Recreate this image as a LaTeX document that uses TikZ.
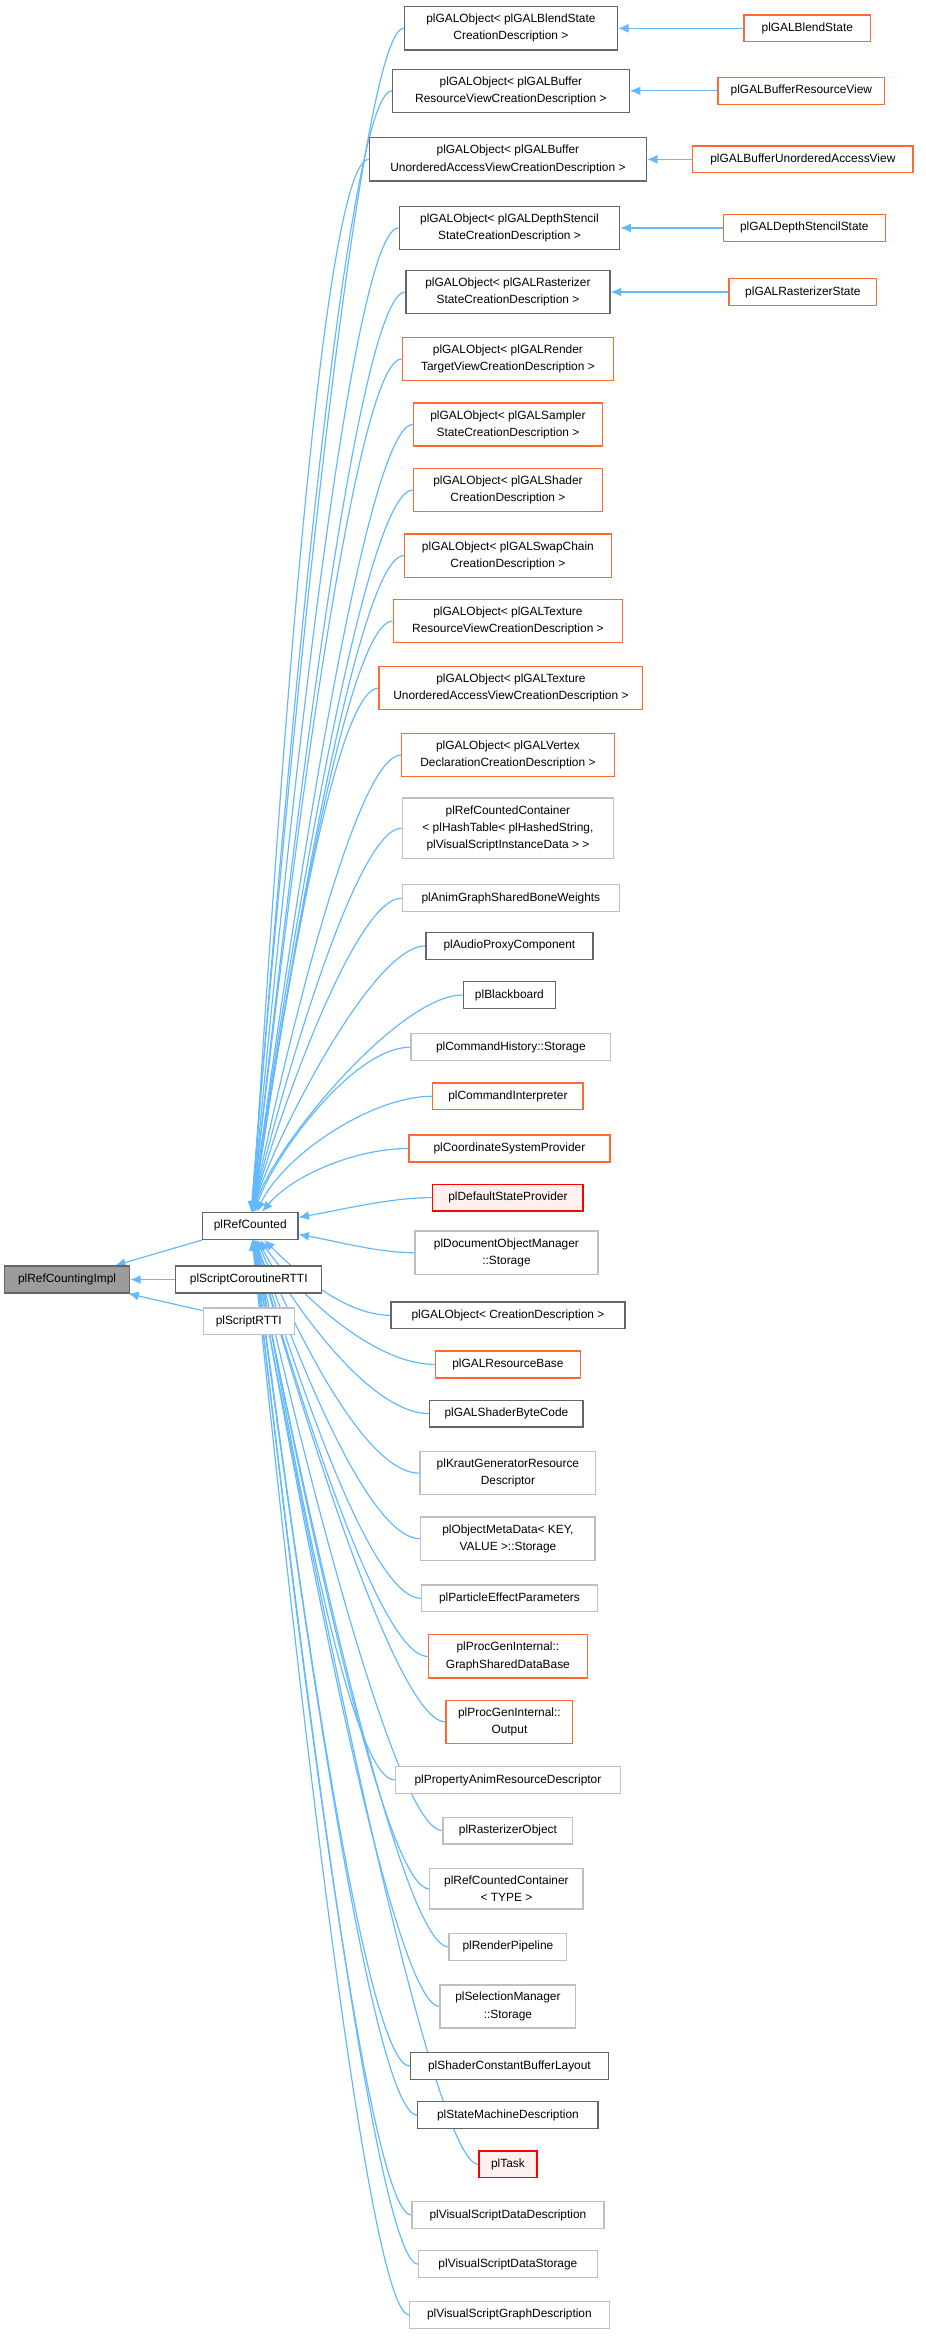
\documentclass[tikz,border=0pt]{standalone}
\usepackage{fontspec}
\setmainfont{Liberation Sans}
\usetikzlibrary{arrows.meta,backgrounds}
\definecolor{edgeblue}{HTML}{63B8FF}
\definecolor{darkline}{HTML}{666666}
\definecolor{lightline}{HTML}{BFBFBF}
\definecolor{orangeline}{HTML}{FF6A33}
\definecolor{redline}{HTML}{FF0000}
\begin{document}
\begin{tikzpicture}[x=1pt,y=1pt,
    box/.style={draw, fill=white, line width=0.9pt, align=center, inner xsep=3pt, inner ysep=5pt,
      minimum height=18pt, font=\fontsize{8}{11.5}\selectfont},
    dk/.style={box, draw=darkline},
    lt/.style={box, draw=lightline},
    og/.style={box, draw=orangeline},
    rd/.style={box, draw=redline, fill=red!6},
    edge/.style={edgeblue, line width=0.8pt, {Latex[length=7pt,width=6pt]}-}]

    \useasboundingbox (0,0) rectangle (621,-1577);

    %% left part
    \node[box, draw=darkline, fill=darkline!65, minimum width=84pt] (impl) at (45,-859) {plRefCountingImpl};
    \node[dk, minimum width=64pt] (rc) at (168,-823) {plRefCounted};
    \node[dk, minimum width=98pt] (cor) at (167,-859) {plScriptCoroutineRTTI};
    \node[lt, minimum width=61pt] (srtti) at (167,-887) {plScriptRTTI};

    %% derived classes
    \node[dk, minimum width=143pt] (c1) at (343,-19) {plGALObject< plGALBlendState\\CreationDescription >};
    \node[dk, minimum width=159pt] (c2) at (343,-61) {plGALObject< plGALBuffer\\ResourceViewCreationDescription >};
    \node[dk, minimum width=186pt] (c3) at (341,-107) {plGALObject< plGALBuffer\\UnorderedAccessViewCreationDescription >};
    \node[dk, minimum width=148pt] (c4) at (342,-153) {plGALObject< plGALDepthStencil\\StateCreationDescription >};
    \node[dk, minimum width=137pt] (c5) at (341,-196) {plGALObject< plGALRasterizer\\StateCreationDescription >};
    \node[og, minimum width=142pt] (c6) at (341,-241) {plGALObject< plGALRender\\TargetViewCreationDescription >};
    \node[og, minimum width=127pt] (c7) at (341,-285) {plGALObject< plGALSampler\\StateCreationDescription >};
    \node[og, minimum width=127pt] (c8) at (341,-329) {plGALObject< plGALShader\\CreationDescription >};
    \node[og, minimum width=139pt] (c9) at (341,-373) {plGALObject< plGALSwapChain\\CreationDescription >};
    \node[og, minimum width=154pt] (c10) at (341,-417) {plGALObject< plGALTexture\\ResourceViewCreationDescription >};
    \node[og, minimum width=177pt] (c11) at (343,-462) {plGALObject< plGALTexture\\UnorderedAccessViewCreationDescription >};
    \node[og, minimum width=143pt] (c12) at (341,-507) {plGALObject< plGALVertex\\DeclarationCreationDescription >};
    \node[lt, minimum width=142pt] (c13) at (341,-556) {plRefCountedContainer\\< plHashTable< plHashedString,\\plVisualScriptInstanceData > >};
    \node[lt, minimum width=146pt] (c14) at (343,-603) {plAnimGraphSharedBoneWeights};
    \node[dk, minimum width=112pt] (c15) at (342,-635) {plAudioProxyComponent};
    \node[dk, minimum width=62pt] (c16) at (342,-668) {plBlackboard};
    \node[lt, minimum width=134pt] (c17) at (343,-703) {plCommandHistory::Storage};
    \node[og, minimum width=101pt] (c18) at (341,-736) {plCommandInterpreter};
    \node[og, minimum width=135pt] (c19) at (342,-771) {plCoordinateSystemProvider};
    \node[rd, minimum width=101pt] (c20) at (341,-804) {plDefaultStateProvider};
    \node[lt, minimum width=123pt] (c21) at (340,-841) {plDocumentObjectManager\\::Storage};
    \node[dk, minimum width=157pt] (c22) at (341,-883) {plGALObject< CreationDescription >};
    \node[og, minimum width=97pt] (c23) at (341,-916) {plGALResourceBase};
    \node[dk, minimum width=103pt] (c24) at (340,-949) {plGALShaderByteCode};
    \node[lt, minimum width=118pt] (c25) at (341,-989) {plKrautGeneratorResource\\Descriptor};
    \node[lt, minimum width=117pt] (c26) at (341,-1033) {plObjectMetaData< KEY,\\VALUE >::Storage};
    \node[lt, minimum width=118pt] (c27) at (342,-1073) {plParticleEffectParameters};
    \node[og, minimum width=107pt] (c28) at (341,-1112) {plProcGenInternal::\\GraphSharedDataBase};
    \node[og, minimum width=85pt] (c29) at (342,-1156) {plProcGenInternal::\\Output};
    \node[lt, minimum width=151pt] (c30) at (341,-1195) {plPropertyAnimResourceDescriptor};
    \node[lt, minimum width=87pt] (c31) at (341,-1229) {plRasterizerObject};
    \node[lt, minimum width=103pt] (c32) at (340,-1268) {plRefCountedContainer\\< TYPE >};
    \node[lt, minimum width=79pt] (c33) at (341,-1307) {plRenderPipeline};
    \node[lt, minimum width=91pt] (c34) at (341,-1347) {plSelectionManager\\::Storage};
    \node[dk, minimum width=133pt] (c35) at (342,-1387) {plShaderConstantBufferLayout};
    \node[dk, minimum width=121pt] (c36) at (341,-1420) {plStateMachineDescription};
    \node[rd, minimum width=39pt] (c37) at (341,-1453) {plTask};
    \node[lt, minimum width=129pt] (c38) at (341,-1487) {plVisualScriptDataDescription};
    \node[lt, minimum width=120pt] (c39) at (341,-1520) {plVisualScriptDataStorage};
    \node[lt, minimum width=134pt] (c40) at (342,-1554) {plVisualScriptGraphDescription};

    %% leaf classes
    \node[og, minimum width=85pt] (d1) at (542,-19) {plGALBlendState};
    \node[og, minimum width=112pt] (d2) at (538,-61) {plGALBufferResourceView};
    \node[og, minimum width=148pt] (d3) at (539,-107) {plGALBufferUnorderedAccessView};
    \node[og, minimum width=109pt] (d4) at (540,-153) {plGALDepthStencilState};
    \node[og, minimum width=99pt] (d5) at (539,-196) {plGALRasterizerState};

    % connectors
    \begin{scope}[on background layer]
    \draw[edge] (impl) -- (rc);
    \draw[edge] (impl) -- (cor);
    \draw[edge] (impl) -- (srtti);
    \foreach \i/\a/\l in {1/86/0.12,2/85/0.13,3/84/0.14,4/84/0.15,5/83/0.16,6/83/0.17,7/82/0.18,
                          8/82/0.2,9/81/0.21,10/81/0.23,11/80/0.25,12/80/0.28,13/79/0.32,14/78/0.38,
                          15/77/0.45,16/75/0.55,17/72/0.65,18/65/0.75,19/50/0.8,20/10/0.8} {
        \draw[edge] (rc) to[out=\a,in=180,looseness=\l] (c\i);
    }
    \foreach \i/\a/\l in {21/-10/0.8,22/-45/0.8,23/-55/0.75,24/-62/0.65,25/-66/0.55,26/-70/0.45,
                          27/-72/0.38,28/-74/0.32,29/-75/0.28,30/-76/0.25,31/-77/0.23,32/-78/0.21,
                          33/-79/0.2,34/-80/0.18,35/-80/0.17,36/-81/0.16,37/-81/0.15,38/-82/0.14,
                          39/-82/0.13,40/-83/0.12} {
        \draw[edge] (rc) to[out=\a,in=180,looseness=\l] (c\i);
    }
    \foreach \i in {1,...,5} {
        \draw[edge] (c\i) -- (d\i);
    }
    \end{scope}
\end{tikzpicture}
\end{document}
